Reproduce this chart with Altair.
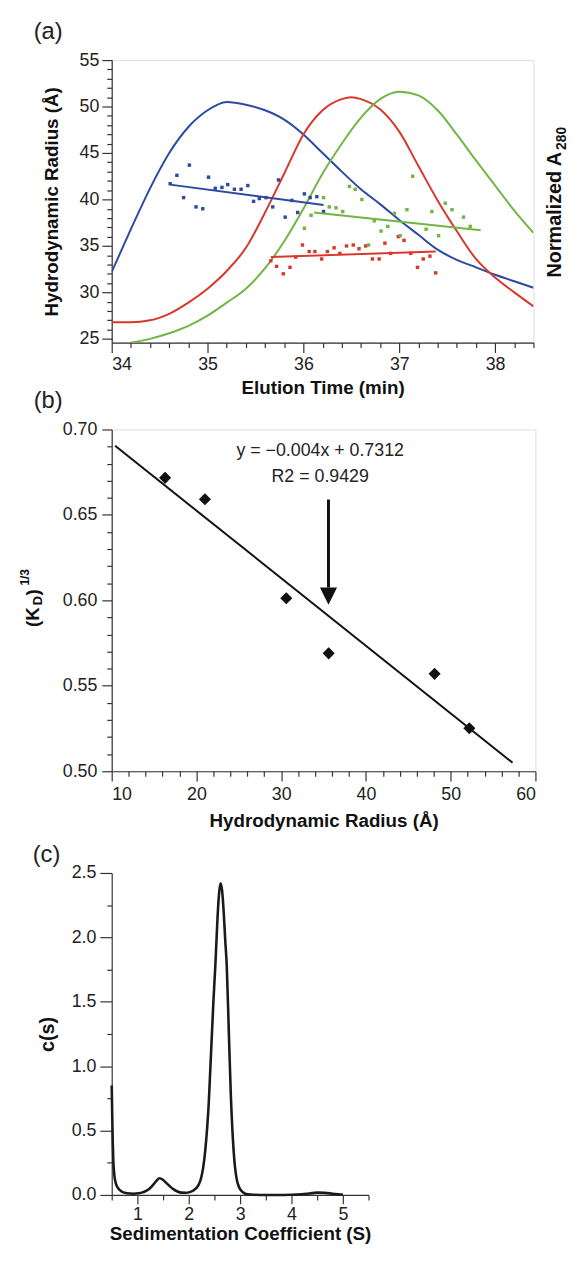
import altair as alt
import pandas as pd

FONT = "Liberation Sans"
BLUE, RED, GREEN = "#2b4aa0", "#d8382b", "#72b544"

# ---------------- Panel (a) ----------------
blue_curve_t = [34.0, 34.2, 34.4, 34.6, 34.8, 35.0, 35.2, 35.4, 35.6, 35.8, 36.0, 36.2,
                36.4, 36.6, 36.8, 37.0, 37.2, 37.4, 37.6, 37.8, 38.0, 38.2, 38.4]
blue_curve_a = [32.2, 36.8, 41.2, 45.0, 47.8, 49.6, 50.5, 50.2, 49.6, 48.6, 47.0, 45.0,
                43.0, 41.1, 39.5, 37.8, 36.2, 34.6, 33.5, 32.7, 31.9, 31.2, 30.5]
red_curve_t = [34.0, 34.2, 34.4, 34.6, 34.8, 35.0, 35.2, 35.4, 35.6, 35.8, 36.0, 36.2,
               36.4, 36.5, 36.6, 36.8, 37.0, 37.2, 37.4, 37.6, 37.8, 38.0, 38.2, 38.4]
red_curve_a = [26.8, 26.8, 27.0, 27.7, 28.9, 30.4, 32.3, 34.8, 38.6, 42.8, 47.0, 49.6,
               50.8, 51.0, 50.8, 49.7, 47.3, 43.6, 39.9, 36.6, 33.6, 31.6, 30.0, 28.5]
green_curve_t = [34.2, 34.4, 34.6, 34.8, 35.0, 35.2, 35.4, 35.6, 35.8, 36.0, 36.2, 36.4,
                 36.6, 36.8, 37.0, 37.2, 37.4, 37.6, 37.8, 38.0, 38.2, 38.4]
green_curve_a = [24.6, 25.0, 25.6, 26.4, 27.5, 28.9, 30.4, 32.6, 35.5, 39.0, 42.8, 46.0,
                 48.8, 50.8, 51.6, 51.2, 49.6, 47.0, 44.2, 41.5, 38.8, 36.4]

blue_pts_t = [34.61, 34.68, 34.81, 34.75, 34.88, 34.95, 35.01, 35.08, 35.15, 35.21, 35.28,
              35.35, 35.42, 35.48, 35.54, 35.61, 35.68, 35.74, 35.81, 35.88, 35.94, 36.01,
              36.07, 36.14, 36.21]
blue_pts_r = [41.7, 42.6, 43.7, 40.2, 39.2, 39.0, 42.4, 41.2, 41.3, 41.6, 41.1,
              41.1, 41.5, 39.8, 40.1, 40.2, 39.2, 42.1, 38.1, 39.9, 38.6, 40.6,
              40.2, 40.3, 38.7]
red_pts_t = [35.66, 35.72, 35.79, 35.86, 35.92, 35.99, 36.06, 36.12, 36.19, 36.25, 36.32,
             36.38, 36.45, 36.52, 36.58, 36.65, 36.72, 36.79, 36.85, 36.91, 36.99, 37.05,
             37.12, 37.19, 37.25, 37.32, 37.38]
red_pts_r = [33.4, 32.8, 32.0, 32.7, 33.8, 35.1, 34.4, 34.4, 33.6, 34.4, 34.8,
             34.2, 35.0, 35.1, 34.7, 35.0, 33.6, 33.6, 35.3, 34.2, 36.0, 35.6,
             34.2, 32.7, 33.6, 33.9, 32.1]
green_pts_t = [36.01, 36.08, 36.21, 36.27, 36.34, 36.41, 36.48, 36.54, 36.61, 36.68, 36.74,
               36.81, 36.88, 36.95, 37.01, 37.08, 37.14, 37.28, 37.34, 37.41, 37.48, 37.55,
               37.67, 37.74]
green_pts_r = [36.9, 38.3, 40.2, 39.2, 39.1, 38.7, 41.4, 41.1, 40.0, 35.1, 37.7,
               36.6, 37.1, 38.5, 36.1, 38.9, 42.5, 36.8, 38.7, 36.1, 39.6, 38.9,
               38.1, 37.1]

fit_series = ["blue", "blue", "red", "red", "green", "green"]
fit_t = [34.61, 36.21, 35.66, 37.38, 36.11, 37.85]
fit_r = [41.6, 39.4, 33.8, 34.4, 38.6, 36.7]

# ---------------- Panel (b) ----------------
rh_vals = [16.3, 21.0, 30.6, 35.6, 48.1, 52.2]
kd_vals = [0.6717, 0.6592, 0.6012, 0.5690, 0.5570, 0.5252]
fitb_x = [10.4, 57.3]
fitb_y = [0.6905, 0.5050]
eq_text = ["y = \u22120.004x + 0.7312", "R2 = 0.9429"]
eq_x = [34.6, 34.6]
eq_y = [0.6875, 0.6722]
arrow_x = [35.58]
arrow_top = [0.659]
arrow_base = [0.6075]
arrow_head = [0.6025]

# ---------------- Panel (c) ----------------
sed_s = [0.50, 0.51, 0.52, 0.53, 0.55, 0.58, 0.63, 0.70, 0.80, 0.92, 1.02, 1.10, 1.17,
         1.24, 1.31, 1.37, 1.43, 1.49, 1.55, 1.62, 1.70, 1.78, 1.86, 1.94, 2.02, 2.09,
         2.15, 2.20, 2.24, 2.28, 2.32, 2.36, 2.39, 2.42, 2.45, 2.48, 2.52, 2.56, 2.59,
         2.62, 2.65, 2.68, 2.71, 2.74, 2.78, 2.82, 2.86, 2.90, 2.94, 2.98, 3.03, 3.10,
         3.20, 3.40, 3.70, 4.00, 4.20, 4.35, 4.50, 4.65, 4.80, 4.95, 5.00]
sed_c = [0.85, 0.62, 0.42, 0.28, 0.16, 0.09, 0.05, 0.025, 0.013, 0.010, 0.013, 0.020, 0.032,
         0.050, 0.080, 0.110, 0.130, 0.120, 0.098, 0.072, 0.045, 0.027, 0.018, 0.017, 0.022, 0.035,
         0.055, 0.085, 0.13, 0.21, 0.34, 0.53, 0.72, 0.98, 1.24, 1.50, 1.80, 2.15, 2.34,
         2.42, 2.36, 2.20, 1.98, 1.78, 1.27, 0.77, 0.43, 0.22, 0.11, 0.06, 0.03, 0.01,
         0.003, 0.0, 0.0, 0.002, 0.006, 0.012, 0.018, 0.016, 0.010, 0.004, 0.003]

# tick value lists
xa_ticks = [round(34 + 0.2 * i, 1) for i in range(23)]
ya_ticks = list(range(25, 56))
xb_ticks = list(range(10, 61, 2))
yb_ticks = [round(0.50 + 0.01 * i, 2) for i in range(21)]
xc_ticks = [round(0.5 + 0.5 * i, 1) for i in range(11)]
yc_ticks = [round(0.25 * i, 2) for i in range(11)]

AX_COLOR = "#333333"


def mk_axis(values, test, fmt, title, major=10, minor=5, tfs=19, **kw):
    return alt.Axis(
        values=values, format=fmt,
        labelExpr=f"({test}) ? datum.label : ''",
        tickSize={"condition": {"test": test, "value": major}, "value": minor},
        title=title, labelOverlap=False, grid=False,
        domainColor=AX_COLOR, tickColor=AX_COLOR, tickWidth=1.2, domainWidth=1.2,
        labelFont=FONT, labelFontSize=18, labelColor="#222222",
        titleFont=FONT, titleFontSize=tfs, titleFontWeight="bold", titleColor="#111111",
        **kw)


def txt(s, x, y, size, bold=False, angle=0, align="left"):
    kw = dict(align=align, baseline="middle", font=FONT, fontSize=size,
              color="#111111" if bold else "#222222")
    if bold:
        kw["fontWeight"] = "bold"
    if angle:
        kw["angle"] = angle
    return alt.Chart(pd.DataFrame({"txt": [s]})).mark_text(**kw).encode(
        text="txt:N", x=alt.value(x), y=alt.value(y))


def anchor(x, y):
    # invisible point that fixes the outer extent of the figure
    return alt.Chart(pd.DataFrame({"k": [0]})).mark_point(
        size=1, opacity=0, filled=True).encode(x=alt.value(x), y=alt.value(y))


# ---------- build panel (a) ----------
curves = pd.DataFrame({
    "t": blue_curve_t + red_curve_t + green_curve_t,
    "r": blue_curve_a + red_curve_a + green_curve_a,
    "s": ["blue"] * len(blue_curve_t) + ["red"] * len(red_curve_t) + ["green"] * len(green_curve_t),
})
pts = pd.DataFrame({
    "t": blue_pts_t + red_pts_t + green_pts_t,
    "r": blue_pts_r + red_pts_r + green_pts_r,
    "s": ["blue"] * len(blue_pts_t) + ["red"] * len(red_pts_t) + ["green"] * len(green_pts_t),
})
fits = pd.DataFrame({"t": fit_t, "r": fit_r, "s": fit_series})

col = alt.Color("s:N", scale=alt.Scale(domain=["blue", "red", "green"], range=[BLUE, RED, GREEN]),
                legend=None)
xa = alt.X("t:Q", scale=alt.Scale(domain=[34, 38.4], nice=False, zero=False),
           axis=mk_axis(xa_ticks, "abs(datum.value - round(datum.value)) < 0.001", ".0f",
                        "Elution Time (min)", labelPadding=3, titlePadding=6))
ya = alt.Y("r:Q", scale=alt.Scale(domain=[24.6, 55], nice=False, zero=False),
           axis=mk_axis(ya_ticks, "abs(datum.value/5 - round(datum.value/5)) < 0.001", ".0f",
                        "Hydrodynamic Radius (\u00c5)", labelPadding=3, titlePadding=18))

curve_layer = alt.Chart(curves).mark_line(strokeWidth=2, clip=True, interpolate="monotone").encode(
    x=xa, y=ya, color=col, detail="s:N")
pts_layer = alt.Chart(pts).mark_square(size=12, opacity=1).encode(x=xa, y=ya, color=col)
fit_layer = alt.Chart(fits).mark_line(strokeWidth=2).encode(x=xa, y=ya, color=col, detail="s:N")

panel_a = alt.layer(
    curve_layer, pts_layer, fit_layer,
    txt("(a)", -79, -28, 24),
    txt("Normalized A", 449, 220, 20, bold=True, angle=270),
    txt("280", 456, 91, 14, bold=True, angle=270),
    anchor(-104, -44),
).properties(width=427, height=286)

# ---------- build panel (b) ----------
xb_scale = alt.Scale(domain=[10, 60], nice=False, zero=False)
yb_scale = alt.Scale(domain=[0.5, 0.7], nice=False, zero=False)
xb_axis = mk_axis(xb_ticks, "abs(datum.value/10 - round(datum.value/10)) < 0.001", ".0f",
                  "Hydrodynamic Radius (\u00c5)", labelPadding=5, titlePadding=8)
yb_axis = mk_axis(yb_ticks, "abs(datum.value*20 - round(datum.value*20)) < 0.001", ".2f",
                  None, labelPadding=5)


def xb(f):
    return alt.X(f"{f}:Q", scale=xb_scale, axis=xb_axis)


def yb(f):
    return alt.Y(f"{f}:Q", scale=yb_scale, axis=yb_axis)


pts_b = alt.Chart(pd.DataFrame({"x": rh_vals, "y": kd_vals})).mark_point(
    shape="diamond", filled=True, size=150, color="#111111", opacity=1).encode(x=xb("x"), y=yb("y"))
fit_b = alt.Chart(pd.DataFrame({"x": fitb_x, "y": fitb_y})).mark_line(
    color="#111111", strokeWidth=2).encode(x=xb("x"), y=yb("y"))
eq_b = alt.Chart(pd.DataFrame({"x": eq_x, "y": eq_y, "t": eq_text})).mark_text(
    fontSize=18, font=FONT, color="#222222", baseline="middle").encode(
    x=xb("x"), y=yb("y"), text="t:N")
arrow_df = pd.DataFrame({"x": arrow_x, "y": arrow_top, "y2": arrow_base, "h": arrow_head})
arrow_rule = alt.Chart(arrow_df).mark_rule(strokeWidth=3, color="#111111").encode(
    x=xb("x"), y=yb("y"), y2="y2:Q")
arrow_tip = alt.Chart(arrow_df).mark_point(
    shape="M-1,-1L1,-1L0,1Z", filled=True, size=300, color="#111111", opacity=1).encode(
    x=xb("x"), y=yb("h"))

panel_b = alt.layer(
    fit_b, pts_b, eq_b, arrow_rule, arrow_tip,
    txt("(K", -80, 200, 19, bold=True, angle=270),
    txt("D", -75, 178, 13, bold=True, angle=270),
    txt(")", -80, 168, 19, bold=True, angle=270),
    txt("1/3", -88, 158, 12, bold=True, angle=270),
    txt("(b)", -79, -29, 24),
).properties(width=429, height=346)

# ---------- build panel (c) ----------
xc = alt.X("s:Q", scale=alt.Scale(domain=[0.5, 5.5], nice=False, zero=False),
           axis=mk_axis(xc_ticks, "abs(datum.value - round(datum.value)) < 0.001", ".0f",
                        "Sedimentation Coefficient (S)", major=9, minor=5, tfs=19,
                        labelPadding=2, titlePadding=1))
yc = alt.Y("c:Q", scale=alt.Scale(domain=[0, 2.5], range=[341, 15], nice=False, zero=False),
           axis=mk_axis(yc_ticks, "abs(datum.value*2 - round(datum.value*2)) < 0.001", ".1f",
                        "c(s)", major=12, minor=5, tfs=20, labelPadding=4, titlePadding=14))
line_c = alt.Chart(pd.DataFrame({"s": sed_s, "c": sed_c})).mark_line(
    color="#1a1a1a", strokeWidth=2.6, interpolate="monotone").encode(x=xc, y=yc)

panel_c = alt.layer(line_c, txt("(c)", -80, -3, 24), anchor(0, 390)).properties(
    width=260, height=341, view=alt.ViewBackground(strokeOpacity=0))

chart = alt.vconcat(panel_a, panel_b, panel_c, spacing=88, bounds="flush").properties(
    padding={"left": 0, "top": 0, "right": 0, "bottom": 0}
).configure_view(stroke="#444444", strokeWidth=1.4).configure(font=FONT)

chart.save("out.html", embed_options={"renderer": "svg", "actions": False})
